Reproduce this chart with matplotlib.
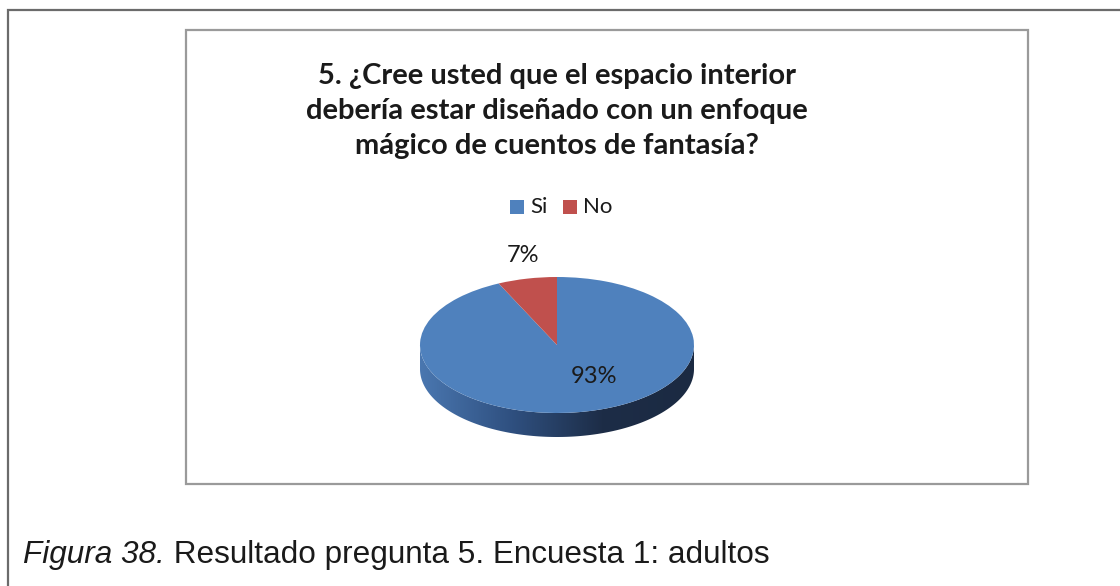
import numpy as np
import matplotlib
matplotlib.use("Agg")
import matplotlib.pyplot as plt
from matplotlib.patches import Rectangle, Polygon
from matplotlib.colors import LinearSegmentedColormap

# datos de la encuesta
labels = ["Si", "No"]
values = [93, 7]
colors = ["#4F81BD", "#C0504D"]
title = "5. ¿Cree usted que el espacio interior\ndebería estar diseñado con un enfoque\nmágico de cuentos de fantasía?"

W, H = 1120, 586
fig = plt.figure(figsize=(W / 100, H / 100), dpi=100)
fig.patch.set_facecolor("white")


def px_rect(x0, y0, x1, y1, **kw):
    """Rectángulo en píxeles (origen arriba-izquierda)."""
    r = Rectangle((x0 / W, 1 - y1 / H), (x1 - x0) / W, (y1 - y0) / H,
                  transform=fig.transFigure, fill=False, **kw)
    fig.add_artist(r)


# marcos
px_rect(8, 10, 1130, 600, edgecolor="#6b6b6b", linewidth=1.6)
px_rect(186, 30, 1028, 484, edgecolor="#9a9a9a", linewidth=1.6)

# título
fig.text(557 / W, 1 - 111 / H, title, ha="center", va="center",
         fontsize=21, fontweight="bold", family="Lato", color="#1a1a1a",
         linespacing=1.42)

# leyenda
leg_y = 1 - 207 / H
for i, (lab, col) in enumerate(zip(labels, colors)):
    x0 = [510, 563][i]
    fig.add_artist(Rectangle((x0 / W, leg_y - 7 / H), 14 / W, 14 / H,
                             transform=fig.transFigure, facecolor=col, edgecolor="none"))
    fig.text((x0 + 20) / W, leg_y, lab, ha="left", va="center",
             fontsize=16, family="Lato", color="#1a1a1a")

# pastel 3D aplanado
cx, cy, rx, ry = 557, 345, 137, 68
depth = 24 / ry
ax = fig.add_axes([(cx - 177) / W, (H - cy - 105) / H, 354 / W, 210 / H])
wedges, _ = ax.pie(values, colors=colors, startangle=90, counterclock=False,
                   wedgeprops=dict(linewidth=0), radius=1)
ax.set_aspect("auto")
ax.set_xlim(-177 / rx, 177 / rx)
ax.set_ylim(-105 / ry, 105 / ry)
ax.axis("off")

# lado frontal con degradado
t = np.linspace(np.pi, 2 * np.pi, 200)
upper = np.column_stack([np.cos(t), np.sin(t)])
lower = np.column_stack([np.cos(t[::-1]), np.sin(t[::-1]) - depth])
side = Polygon(np.vstack([upper, lower]), closed=True, facecolor="none", edgecolor="none")
ax.add_patch(side)
cmap = LinearSegmentedColormap.from_list("lado", ["#4a77b0", "#2f5080", "#1d2d47", "#1b2a42"])
grad = np.linspace(0, 1, 256)[None, :]
img = ax.imshow(grad, cmap=cmap, extent=(-1, 1, -1 - depth, 0), aspect="auto", zorder=0.5)
img.set_clip_path(side)
for w in wedges:
    w.set_zorder(1)

# etiquetas de porcentaje
pct_pos = [(0.27, -0.46), (-0.25, 1.32)]
for v, (px, py) in zip(values, pct_pos):
    ax.text(px, py, f"{v}%", ha="center", va="center", fontsize=17,
            family="Lato", color="#1a1a1a")

# pie de figura
cap = fig.text(23 / W, 1 - 555 / H, "Figura 38.", ha="left", va="center",
               fontsize=22.7, style="italic", family="Liberation Sans", color="#1a1a1a")
fig.canvas.draw()
bb = cap.get_window_extent()
fig.text(bb.x1 / W, 1 - 555 / H, " Resultado pregunta 5. Encuesta 1: adultos",
         ha="left", va="center", fontsize=22.7, family="Liberation Sans", color="#1a1a1a")

fig.savefig("out.png", dpi=100, facecolor="white")
